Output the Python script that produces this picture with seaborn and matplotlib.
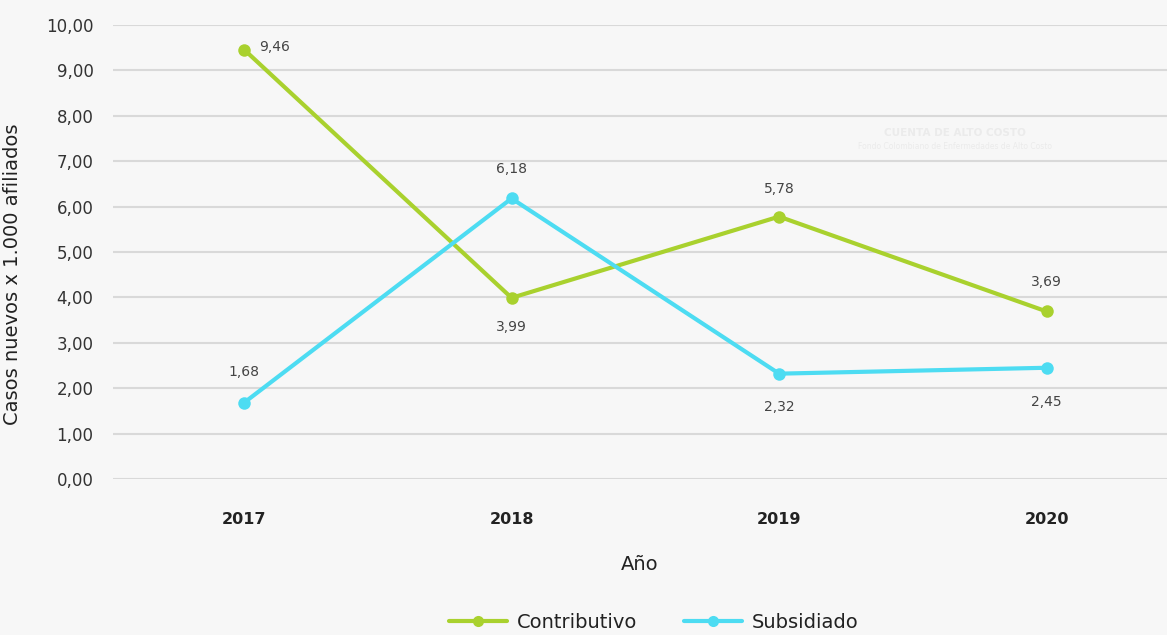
import matplotlib
matplotlib.use("Agg")
import matplotlib.pyplot as plt
import seaborn as sns
import pandas as pd
from matplotlib.lines import Line2D

years = ["2017", "2018", "2019", "2020"]
contributivo = [9.46, 3.99, 5.78, 3.69]
subsidiado = [1.68, 6.18, 2.32, 2.45]
series_names = ["Contributivo", "Subsidiado"]
y_ticks = [0, 1, 2, 3, 4, 5, 6, 7, 8, 9, 10]

colors = {"Contributivo": "#a9d12e", "Subsidiado": "#4ddcf2"}

sns.set_theme(style="whitegrid")
plt.rcParams["font.family"] = ["DejaVu Sans"]

df = pd.DataFrame({
    "Año": years * 2,
    "valor": contributivo + subsidiado,
    "serie": [series_names[0]] * 4 + [series_names[1]] * 4,
})

fig = plt.figure(figsize=(11.67, 6.35), dpi=100, facecolor="#f7f7f7")
ax = fig.add_axes([0.0968, 0.2457, 0.9032, 0.7149])
ax.set_facecolor("#f7f7f7")

sns.lineplot(data=df, x="Año", y="valor", hue="serie", palette=colors,
             marker="o", markersize=9, markeredgewidth=0, linewidth=3,
             ax=ax, legend=False, sort=False)

ax.set_ylim(0, 10)
ax.set_xlim(-0.49, 3.45)
ax.set_yticks(y_ticks)
ax.set_yticklabels([f"{v:.2f}".replace(".", ",") for v in y_ticks], fontsize=12, color="#333333")
ax.tick_params(axis="y", pad=14, length=0)
ax.tick_params(axis="x", pad=24, length=0)
for lab in ax.get_xticklabels():
    lab.set_fontweight("bold")
    lab.set_fontsize(11.5)
    lab.set_color("#222222")
ax.grid(axis="x", visible=False)
ax.grid(axis="y", color="#d9d9d9", linewidth=1.5)
for s in ax.spines.values():
    s.set_visible(False)
for line in ax.lines:
    line.set_clip_on(False)

ax.set_xlabel("Año", fontsize=14, color="#222222", labelpad=20)
ax.set_ylabel("Casos nuevos x 1.000 afiliados", fontsize=14, color="#222222")
ax.yaxis.set_label_coords(-0.086, 0.45)

def fmt(v):
    return f"{v:.2f}".replace(".", ",")

c_off = [(22, 2), (0, -21), (0, 20), (0, 21)]
s_off = [(0, 22), (0, 21), (0, -24), (0, -25)]
for i, (v, o) in enumerate(zip(contributivo, c_off)):
    ax.annotate(fmt(v), (i, v), xytext=o, textcoords="offset points",
                ha="center", va="center", fontsize=10, color="#444444")
for i, (v, o) in enumerate(zip(subsidiado, s_off)):
    ax.annotate(fmt(v), (i, v), xytext=o, textcoords="offset points",
                ha="center", va="center", fontsize=10, color="#444444")

# watermark
fig.text(0.818, 0.790, "CUENTA DE ALTO COSTO", fontsize=7.5, fontweight="bold",
         color="#ebebeb", ha="center", va="center")
fig.text(0.818, 0.769, "Fondo Colombiano de Enfermedades de Alto Costo", fontsize=5.5,
         color="#ebebeb", ha="center", va="center")

handles = [Line2D([0], [0], color=colors[n], lw=3, marker="o", markersize=8,
                  markeredgewidth=0) for n in series_names]
fig.legend(handles, series_names, loc="center", bbox_to_anchor=(0.56, 0.02),
           ncol=2, frameon=False, fontsize=14, handlelength=3.0, columnspacing=2.4,
           handletextpad=0.5, labelcolor="#222222")

fig.savefig("out.png", dpi=100, facecolor=fig.get_facecolor())
